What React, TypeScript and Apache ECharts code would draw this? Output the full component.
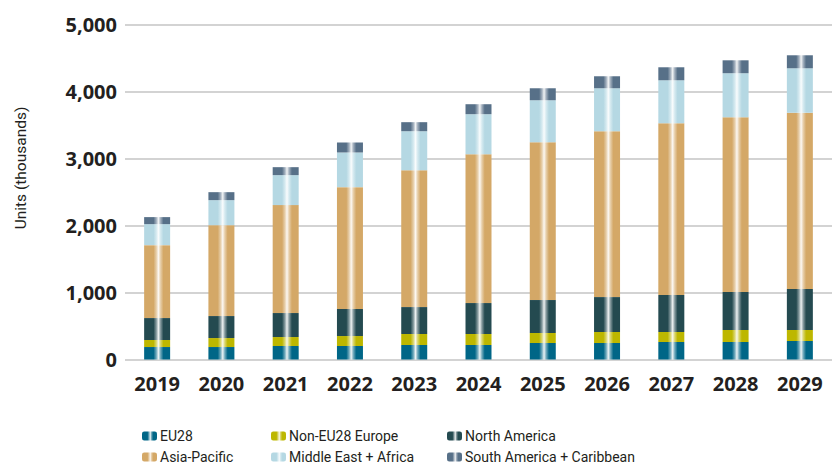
import React, { useEffect, useRef } from "react";
import * as echarts from "echarts";

const years = ["2019", "2020", "2021", "2022", "2023", "2024", "2025", "2026", "2027", "2028", "2029"];
const eu28 = [186, 186, 201, 201, 216, 216, 246, 246, 261, 261, 276];
const nonEu28Europe = [105, 134, 134, 149, 164, 164, 149, 164, 149, 179, 164];
const northAmerica = [327, 328, 358, 403, 402, 462, 492, 521, 551, 566, 611];
const asiaPacific = [1088, 1356, 1610, 1818, 2042, 2220, 2354, 2474, 2564, 2608, 2630];
const middleEastAfrica = [313, 373, 447, 517, 581, 597, 626, 641, 640, 656, 663];
const southAmericaCaribbean = [105, 119, 119, 149, 135, 149, 179, 179, 194, 193, 194];
const yTicks = [0, 1000, 2000, 3000, 4000, 5000];

const seriesDefs = [
  { name: "EU28", data: eu28, color: "#006687" },
  { name: "Non-EU28 Europe", data: nonEu28Europe, color: "#bdb700" },
  { name: "North America", data: northAmerica, color: "#244a50" },
  { name: "Asia-Pacific", data: asiaPacific, color: "#d4a867" },
  { name: "Middle East + Africa", data: middleEastAfrica, color: "#b5d8e3" },
  { name: "South America + Caribbean", data: southAmericaCaribbean, color: "#577088" },
];

function mix(hex: string, t: number) {
  const n = parseInt(hex.slice(1), 16);
  const r = (n >> 16) & 255, g = (n >> 8) & 255, b = n & 255;
  const m = (c: number) => Math.round(c + (255 - c) * t);
  return `rgb(${m(r)},${m(g)},${m(b)})`;
}

function grad(c: string) {
  return {
    type: "linear", x: 0, y: 0, x2: 1, y2: 0,
    colorStops: [
      { offset: 0, color: c },
      { offset: 0.36, color: c },
      { offset: 0.47, color: mix(c, 0.45) },
      { offset: 0.55, color: mix(c, 0.92) },
      { offset: 0.63, color: mix(c, 0.45) },
      { offset: 0.74, color: c },
      { offset: 1, color: c },
    ],
  };
}

const legendPos = [
  { left: 142, top: 427 },
  { left: 271, top: 427 },
  { left: 447, top: 427 },
  { left: 142, top: 448 },
  { left: 271, top: 448 },
  { left: 447, top: 448 },
];

export default function App() {
  const ref = useRef<HTMLDivElement>(null);
  useEffect(() => {
    if (!ref.current) return;
    const chart = echarts.init(ref.current, null, { renderer: "svg" });
    chart.setOption({
      animation: false,
      backgroundColor: "#ffffff",
      grid: { left: 125, top: 24.3, width: 709.5, height: 335.2, containLabel: false },
      legend: seriesDefs.map((s, i) => ({
        data: [s.name],
        left: legendPos[i].left,
        top: legendPos[i].top,
        padding: 0,
        itemWidth: 15,
        itemHeight: 9,
        itemGap: 0,
        selectedMode: false,
        textStyle: {
          fontFamily: "Roboto",
          fontSize: 14,
          color: "#231f20",
          lineHeight: 18,
          padding: [0, 0, 0, -2],
        },
      })),
      xAxis: {
        type: "category",
        data: years,
        axisLine: { show: false },
        axisTick: { show: false },
        axisLabel: {
          fontFamily: "Open Sans",
          fontWeight: "bold",
          fontSize: 20,
          color: "#231f20",
          margin: 14,
        },
      },
      yAxis: {
        type: "value",
        min: yTicks[0],
        max: yTicks[yTicks.length - 1],
        interval: 1000,
        axisLine: { show: false },
        axisTick: { show: false },
        splitLine: { lineStyle: { color: "#c4c4c4", width: 1.6 } },
        axisLabel: {
          fontFamily: "Open Sans",
          fontWeight: "bold",
          fontSize: 20,
          color: "#231f20",
          margin: 8,
          formatter: (v: number) => v.toLocaleString("en-US"),
        },
      },
      graphic: [
        {
          type: "text",
          x: 21,
          y: 168,
          rotation: Math.PI / 2,
          style: {
            text: "Units (thousands)",
            fontFamily: "Roboto",
            fontSize: 15.5,
            fill: "#231f20",
            align: "center",
            verticalAlign: "middle",
          },
        },
      ],
      series: seriesDefs.map((s) => ({
        name: s.name,
        type: "bar",
        stack: "total",
        barWidth: 26,
        data: s.data,
        itemStyle: { color: grad(s.color) },
      })),
    });
    return () => chart.dispose();
  }, []);
  return (
    <div
      ref={ref}
      style={{ position: "fixed", left: 0, top: 0, width: 832, height: 468 }}
    />
  );
}
